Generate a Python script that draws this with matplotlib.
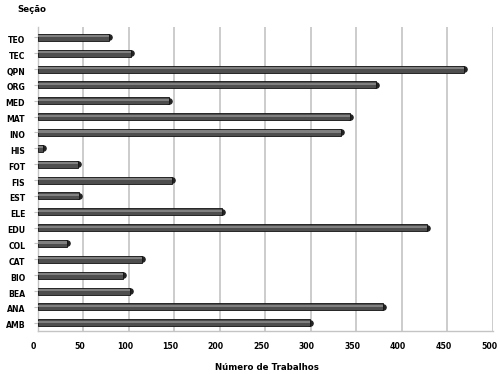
import matplotlib
matplotlib.use("Agg")
import matplotlib.pyplot as plt
import matplotlib.transforms as mtransforms
import numpy as np

categories = ["AMB", "ANA", "BEA", "BIO", "CAT", "COL", "EDU", "ELE", "EST", "FIS",
              "FOT", "HIS", "INO", "MAT", "MED", "ORG", "QPN", "TEC", "TEO"]
values = [299, 379, 101, 94, 115, 32, 428, 202, 45, 148,
          44, 6, 333, 343, 144, 372, 468, 103, 78]
xticks = [0, 50, 100, 150, 200, 250, 300, 350, 400, 450, 500]

fig = plt.figure(figsize=(5.0, 3.74), dpi=100)
W, H = 500, 374
left, right = 37.7, 493
top, bottom = 27, 331
ax = fig.add_axes([left / W, 1 - bottom / H, (right - left) / W, (bottom - top) / H])

y = np.arange(len(categories))
ax.set_xlim(0, 500)
ax.set_ylim(-0.52, len(categories) - 0.35)

for xv in xticks[1:]:
    ax.axvline(xv, color="#c4c4c4", lw=1.2, zorder=0)

# cylinder-like bars
ax.barh(y, values, height=0.44, color="#4e4e4e", edgecolor="#111111", lw=0.6, zorder=3)
ax.barh(y + 0.06, values, height=0.14, color="#808080", lw=0, zorder=4)
ax.scatter(values, y, s=14, marker="o", color="#222222", zorder=2, clip_on=False)

for s in ["top", "right", "bottom"]:
    ax.spines[s].set_visible(False)
ax.spines["left"].set_color("#c4c4c4")
ax.spines["left"].set_linewidth(1.0)

ax.set_yticks(y)
ax.set_yticklabels(categories, fontsize=5.6, fontweight="bold")
ax.tick_params(axis="y", length=3, color="#c4c4c4", pad=6)
ax.set_xticks(xticks)
ax.set_xticklabels([str(v) for v in xticks], fontsize=5.6, fontweight="bold")
ax.tick_params(axis="x", length=0, pad=8)
offset = mtransforms.ScaledTranslation(-4 / 100, 0, fig.dpi_scale_trans)
for lbl in ax.get_xticklabels():
    lbl.set_transform(lbl.get_transform() + offset)
for lbl in ax.get_yticklabels():
    lbl.set_transform(lbl.get_transform() + mtransforms.ScaledTranslation(0, -2 / 100, fig.dpi_scale_trans))

# floor line
ax.plot([0, 500], [-0.52, -0.52], color="#c4c4c4", lw=1.0, clip_on=False)

fig.text(17 / W, 1 - 9 / H, "Seção", fontsize=6.2, fontweight="bold", va="center", ha="left")
fig.text(267 / W, 1 - 367 / H, "Número de Trabalhos", fontsize=6.2, fontweight="bold",
         va="center", ha="center")

fig.savefig("out.png", dpi=100)
